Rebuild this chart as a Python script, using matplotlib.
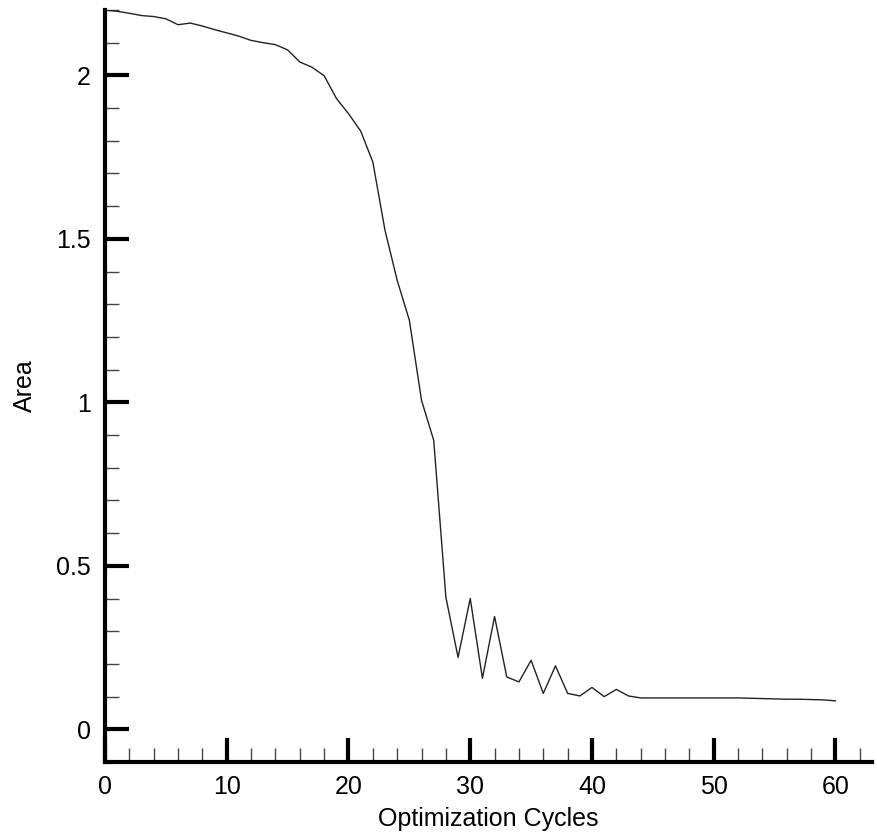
import numpy as np
import matplotlib
matplotlib.use("Agg")
import matplotlib.pyplot as plt
from matplotlib.ticker import MultipleLocator

# optimisation history
cycles = list(range(61))
area = [
    2.200, 2.196, 2.190, 2.183, 2.180, 2.173, 2.155, 2.160, 2.151, 2.140,
    2.130, 2.120, 2.107, 2.100, 2.094, 2.078, 2.041, 2.025, 1.999, 1.930,
    1.883, 1.830, 1.735, 1.526, 1.373, 1.251, 1.006, 0.884, 0.404, 0.220,
    0.400, 0.156, 0.345, 0.160, 0.145, 0.211, 0.110, 0.194, 0.110, 0.102,
    0.128, 0.100, 0.122, 0.102, 0.096, 0.096, 0.096, 0.096, 0.096, 0.096,
    0.096, 0.096, 0.096, 0.095, 0.094, 0.093, 0.092, 0.092, 0.091, 0.090,
    0.087,
]
x_ticks = [0, 10, 20, 30, 40, 50, 60]
y_ticks = [0, 0.5, 1, 1.5, 2]
y_labels = ["0", "0.5", "1", "1.5", "2"]

plt.rcParams['font.family'] = ['Liberation Sans', 'DejaVu Sans']

fig = plt.figure(figsize=(8.77, 8.38), dpi=100)
ax = fig.add_axes([105 / 877, 76 / 838, 767 / 877, 752 / 838])

ax.plot(cycles, area, color='#222222', lw=1.0)

ax.set_xlim(0, 63)
ax.set_ylim(-0.1, 2.2)
ax.set_xticks(x_ticks)
ax.set_yticks(y_ticks)
ax.set_yticklabels(y_labels)
ax.xaxis.set_minor_locator(MultipleLocator(2))
ax.yaxis.set_minor_locator(MultipleLocator(0.1))

for side in ['top', 'right']:
    ax.spines[side].set_visible(False)
for side in ['left', 'bottom']:
    ax.spines[side].set_linewidth(3)

ax.tick_params(which='major', direction='in', length=17, width=3,
               labelsize=18, pad=9)
ax.tick_params(axis='y', which='major', pad=10)
ax.tick_params(which='minor', direction='in', length=10, width=1,
               color='#444444')

ax.set_xlabel('Optimization Cycles', fontsize=18, labelpad=6)
ax.set_ylabel('Area', fontsize=18, labelpad=14)

fig.savefig('out.png', dpi=100)
